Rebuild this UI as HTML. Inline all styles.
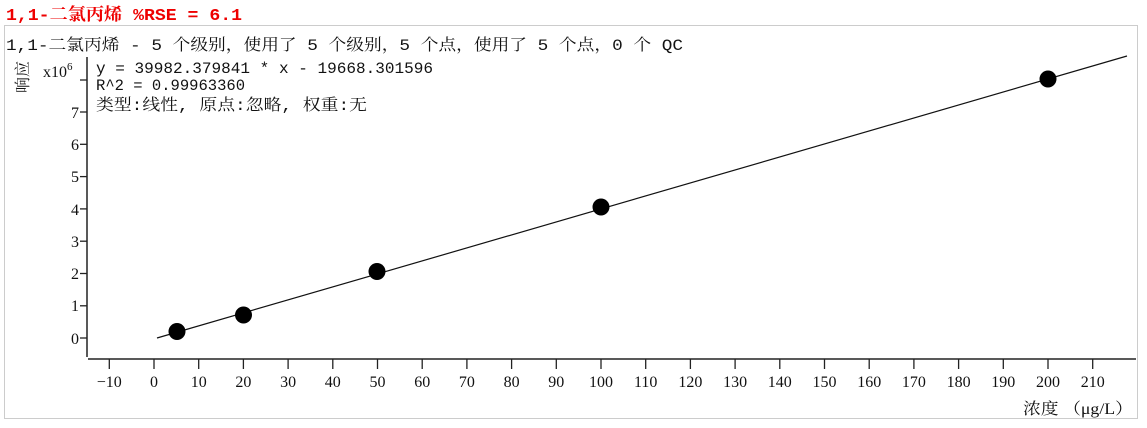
<!DOCTYPE html>
<html><head><meta charset="utf-8"><style>
body{margin:0;background:#fff;width:1147px;height:428px;overflow:hidden}
svg{display:block}
text{font-family:"Liberation Serif","Noto Serif CJK SC",serif;fill:#111}
text.m{font-family:"Liberation Mono","Noto Serif CJK SC",monospace}
</style></head><body>
<svg width="1147" height="428" xmlns="http://www.w3.org/2000/svg">
<rect x="4.5" y="25.5" width="1133" height="393" fill="#fff" stroke="#ccc"/>
<text class="m" x="6" y="20" style="font-weight:bold;fill:#e00" font-size="17" textLength="236" lengthAdjust="spacingAndGlyphs">1,1-二氯丙烯  %RSE = 6.1</text>
<text class="m" x="6" y="50" font-size="16" textLength="677" lengthAdjust="spacingAndGlyphs">1,1-二氯丙烯 - 5 个级别，使用了 5 个级别，5 个点，使用了 5 个点，0 个 QC</text>
<text class="m" x="96" y="73" font-size="16" textLength="337" lengthAdjust="spacingAndGlyphs">y = 39982.379841 * x  - 19668.301596</text>
<text class="m" x="96" y="90" font-size="16" textLength="149" lengthAdjust="spacingAndGlyphs">R^2 = 0.99963360</text>
<text class="m" x="96" y="110" font-size="16" textLength="271" lengthAdjust="spacingAndGlyphs">类型:线性, 原点:忽略, 权重:无</text>
<text transform="translate(28,93) rotate(-90)" font-size="16">响应</text>
<text x="43" y="77" font-size="16">x10<tspan font-size="11" dy="-7">6</tspan></text>
<g stroke="#222" stroke-width="1.5" fill="none">
<line x1="87" y1="57" x2="87" y2="357"/>
<line x1="88" y1="359" x2="1136" y2="359"/>
</g>
<g stroke="#222" stroke-width="1.3">
<line x1="80" y1="80" x2="87" y2="80"/>
<line x1="80" y1="112" x2="87" y2="112"/><line x1="80" y1="144.3" x2="87" y2="144.3"/>
<line x1="80" y1="176.6" x2="87" y2="176.6"/><line x1="80" y1="208.9" x2="87" y2="208.9"/>
<line x1="80" y1="241.2" x2="87" y2="241.2"/><line x1="80" y1="273.5" x2="87" y2="273.5"/>
<line x1="80" y1="305.8" x2="87" y2="305.8"/><line x1="80" y1="338" x2="87" y2="338"/>
</g>
<g font-size="16" text-anchor="end">
<text x="79" y="118">7</text><text x="79" y="150">6</text><text x="79" y="182">5</text>
<text x="79" y="215">4</text><text x="79" y="247">3</text><text x="79" y="279">2</text>
<text x="79" y="311">1</text><text x="79" y="344">0</text>
</g>
<g id="xt" stroke="#222" stroke-width="1.3"></g>
<g id="xl" font-size="16" text-anchor="middle"></g>
<text x="1023" y="414" font-size="16" textLength="110" lengthAdjust="spacingAndGlyphs">浓度 （μg/L）</text>
<line x1="157" y1="338" x2="1127" y2="56" stroke="#111" stroke-width="1.2"/>
<g fill="#000">
<circle cx="177" cy="331.5" r="8.5"/><circle cx="243.5" cy="315" r="8.5"/>
<circle cx="377" cy="271.5" r="8.5"/><circle cx="601" cy="207" r="8.5"/>
<circle cx="1048" cy="79" r="8.5"/>
</g>
<script>
var t=document.getElementById('xt'),l=document.getElementById('xl'),ns='http://www.w3.org/2000/svg';
for(var v=-10;v<=210;v+=10){var x=154+v*4.47;
var ln=document.createElementNS(ns,'line');ln.setAttribute('x1',x);ln.setAttribute('x2',x);ln.setAttribute('y1',359);ln.setAttribute('y2',369);t.appendChild(ln);
var tx=document.createElementNS(ns,'text');tx.setAttribute('x',x);tx.setAttribute('y',387);tx.textContent=v<0?'\u2212'+(-v):v;l.appendChild(tx);}
</script>
</svg>
</body></html>
